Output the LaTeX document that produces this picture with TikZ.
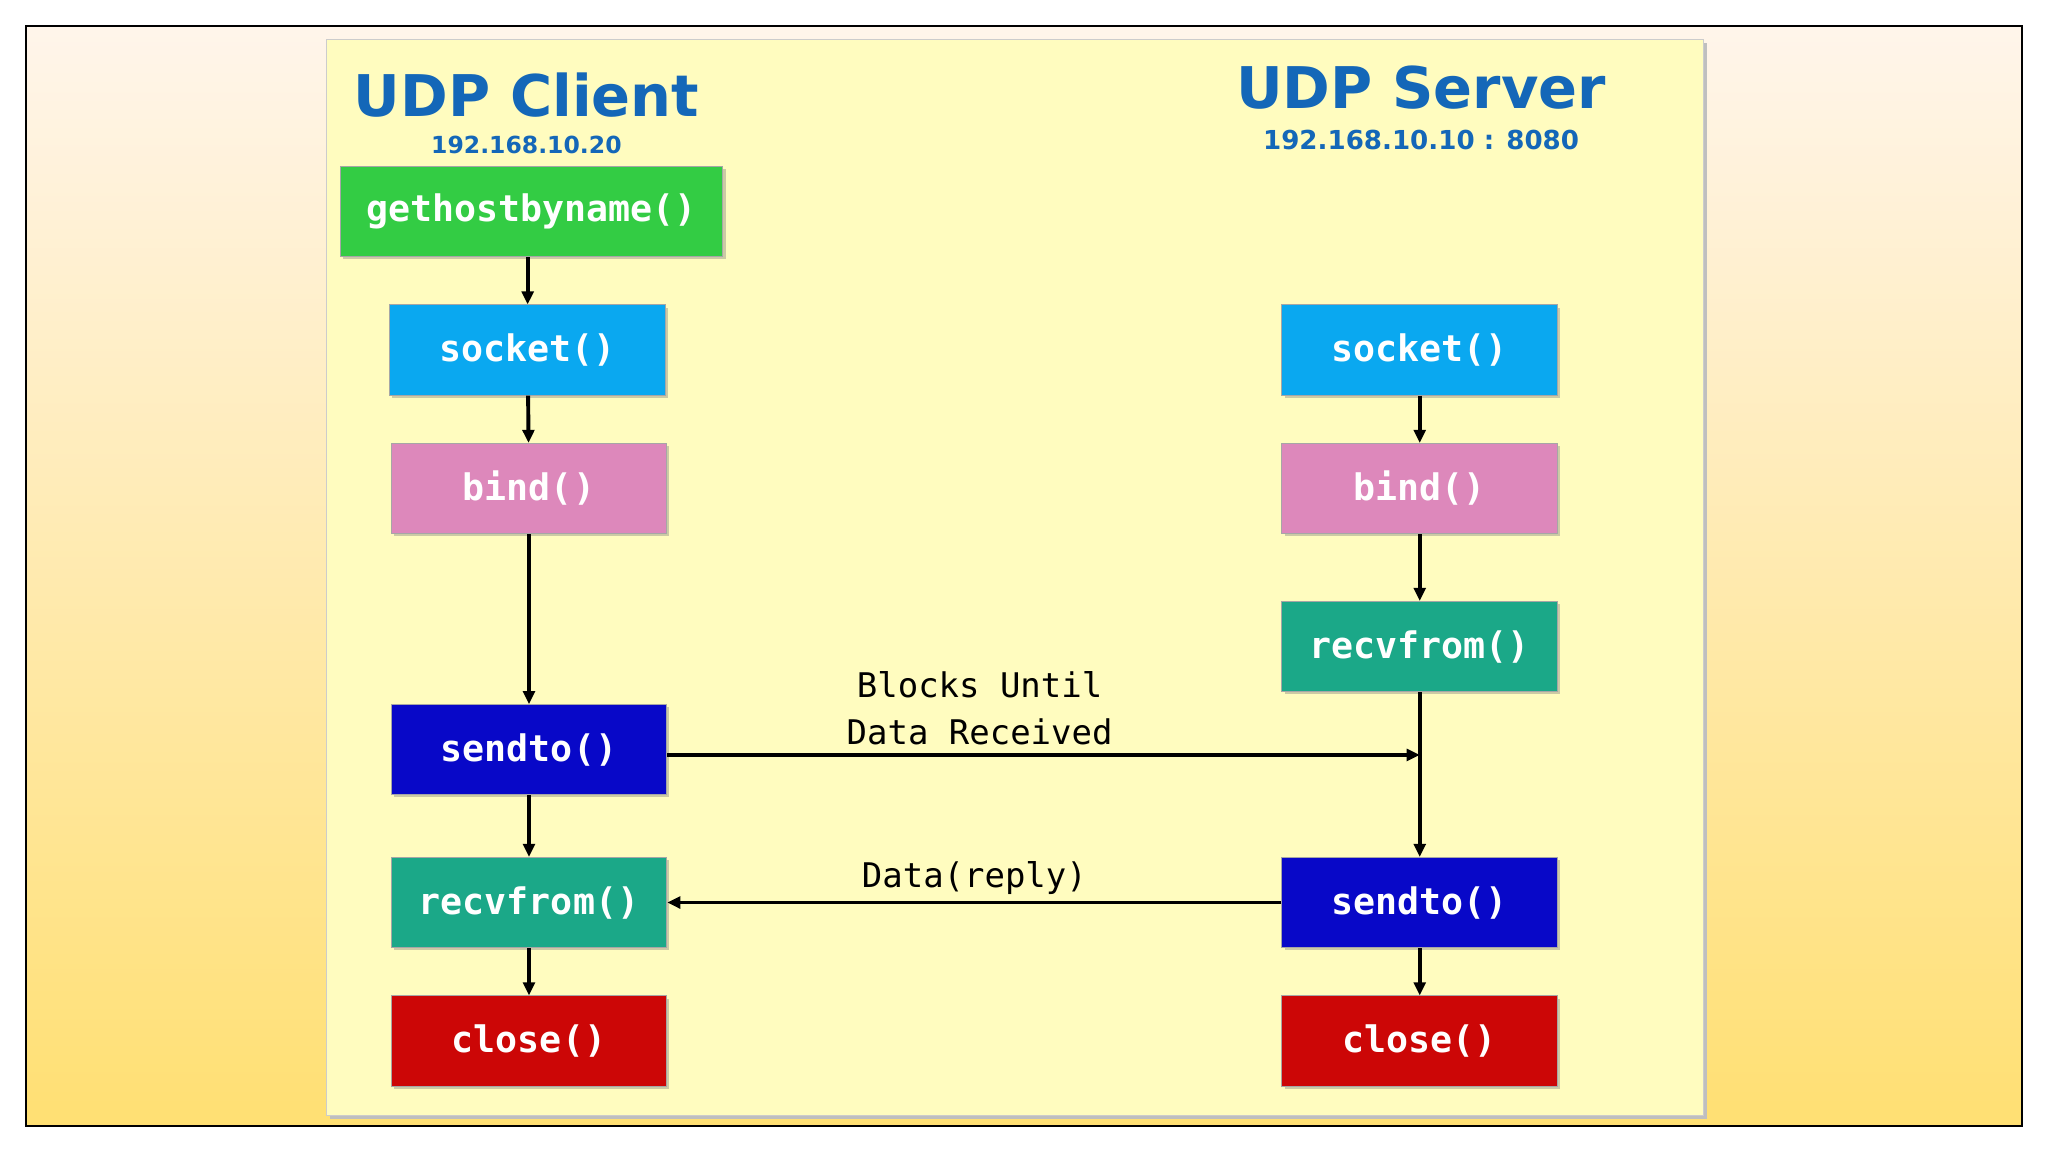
\documentclass[tikz,border=0pt]{standalone}
\usepackage{fontspec}
\setmainfont{DejaVu Sans}
\newfontfamily\mono{DejaVu Sans Mono}
\usetikzlibrary{shadows,arrows.meta}
\definecolor{ttl}{HTML}{1467B8}
\definecolor{cg}{HTML}{33CC44}
\definecolor{cs}{HTML}{0AA8F0}
\definecolor{cb}{HTML}{DD88BB}
\definecolor{cst}{HTML}{0808C8}
\definecolor{cr}{HTML}{1BA888}
\definecolor{cc}{HTML}{CC0606}
\begin{document}
\begin{tikzpicture}[x=1pt,y=-1pt,
 box/.style={draw=gray!70,line width=0.8pt,fill=#1,minimum width=211pt,minimum height=69pt,inner sep=0pt,text=white,font=\mono\bfseries\fontsize{28}{32}\selectfont,drop shadow={shadow xshift=2pt,shadow yshift=-2pt,opacity=0.4}},
 ar/.style={-{Triangle[length=10pt,width=9pt]},line width=3pt},
 lab/.style={font=\mono\fontsize{26}{30}\selectfont}]
\useasboundingbox (0,0) rectangle (1568,882);
\shade[top color=orange!8!white,bottom color=orange!45!yellow!55] (20,20) rectangle (1548,862);
\draw[line width=1.5pt] (20,20) rectangle (1548,862);
\fill[black!25] (253,33) rectangle (1307,857);
\fill[yellow!25] (250,30) rectangle (1304,854);
\draw[gray!40] (250,30) rectangle (1304,854);
\node[text=ttl,font=\bfseries\fontsize{44}{48}\selectfont] (tc) at (403,73) {UDP Client};
\node[text=ttl,font=\bfseries\fontsize{18}{20}\selectfont] (ic) at (403,111) {192.168.10.20};
\node[text=ttl,font=\bfseries\fontsize{44}{48}\selectfont] (ts) at (1088,67) {UDP Server};
\node[text=ttl,font=\bfseries\fontsize{20}{22}\selectfont] (is) at (1088,107) {192.168.10.10 : 8080};
\node[box=cg,minimum width=293pt] (g) at (407,162) {gethostbyname()};
\node[box=cs] (cs1) at (404,268) {socket()};
\node[box=cb] (cb1) at (405,374) {bind()};
\node[box=cst] (cst1) at (405,574) {sendto()};
\node[box=cr] (cr1) at (405,691) {recvfrom()};
\node[box=cc] (cc1) at (405,797) {close()};
\node[box=cs] (ss) at (1087,268) {socket()};
\node[box=cb] (sb) at (1087,374) {bind()};
\node[box=cr] (sr) at (1087,495) {recvfrom()};
\node[box=cst] (sst) at (1087,691) {sendto()};
\node[box=cc] (sc) at (1087,797) {close()};
\draw[ar] (g.south -| cs1) -- (cs1);
\draw[ar] (cs1) -- (cb1);
\draw[ar] (cb1.south -| cst1.north) -- (cst1);
\draw[ar] (cst1) -- (cr1);
\draw[ar] (cr1) -- (cc1);
\draw[ar] (ss) -- (sb);
\draw[ar] (sb) -- (sr);
\draw[ar] (sr) -- (sst);
\draw[ar] (sst) -- (sc);
\coordinate (m) at (1087,578);
\draw[ar] (cst1.east |- m) -- (m);
\draw[ar] (sst.west) -- (cr1.east);
\node[lab] (l1) at (750,524) {Blocks Until};
\node[lab] (l2) at (750,560) {Data Received};
\node[lab] (l3) at (746,672) {Data(reply)};
\end{tikzpicture}
\end{document}
